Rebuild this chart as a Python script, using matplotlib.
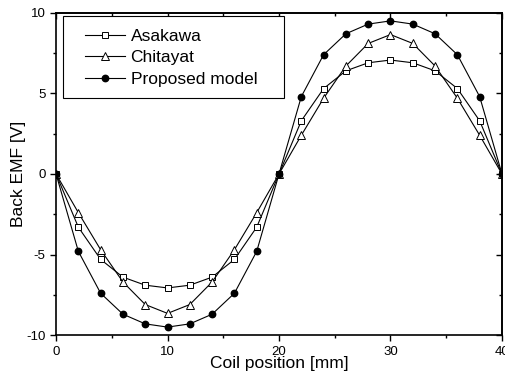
import matplotlib

matplotlib.use("Agg")
import matplotlib.pyplot as plt  # noqa: E402
from matplotlib.patches import Rectangle  # noqa: E402
from matplotlib.ticker import MultipleLocator  # noqa: E402

plt.rcParams["font.family"] = ["Liberation Sans", "DejaVu Sans"]
plt.rcParams["axes.unicode_minus"] = False

# Coil position [mm], sampled every 2 mm
POSITION = [0, 2, 4, 6, 8, 10, 12, 14, 16, 18, 20,
            22, 24, 26, 28, 30, 32, 34, 36, 38, 40]

# Back EMF [V]
ASAKAWA = [0, -3.3, -5.3, -6.4, -6.9, -7.07, -6.9, -6.4, -5.3, -3.3, 0,
           3.3, 5.3, 6.4, 6.9, 7.07, 6.9, 6.4, 5.3, 3.3, 0]
CHITAYAT = [0, -2.4, -4.7, -6.7, -8.1, -8.65, -8.1, -6.7, -4.7, -2.4, 0,
            2.4, 4.7, 6.7, 8.1, 8.65, 8.1, 6.7, 4.7, 2.4, 0]
PROPOSED = [0, -4.8, -7.4, -8.7, -9.3, -9.5, -9.3, -8.7, -7.4, -4.8, 0,
            4.8, 7.4, 8.7, 9.3, 9.5, 9.3, 8.7, 7.4, 4.8, 0]

fig = plt.figure(figsize=(5.05, 3.77), dpi=100)
ax = fig.add_axes([0.111, 0.111, 0.883, 0.855])

ax.plot(POSITION, ASAKAWA, color="black", lw=0.8, marker="s", ms=5,
        mfc="white", mec="black", mew=0.7, label="Asakawa")
ax.plot(POSITION, CHITAYAT, color="black", lw=0.8, marker="^", ms=5.5,
        mfc="white", mec="black", mew=0.7, label="Chitayat")
ax.plot(POSITION, PROPOSED, color="black", lw=0.8, marker="o", ms=4.6,
        mfc="black", mec="black", label="Proposed model")

ax.set_xlim(0, 40)
ax.set_ylim(-10, 10)
ax.xaxis.set_major_locator(MultipleLocator(10))
ax.xaxis.set_minor_locator(MultipleLocator(5))
ax.yaxis.set_major_locator(MultipleLocator(5))
ax.yaxis.set_minor_locator(MultipleLocator(2.5))
ax.tick_params(which="both", direction="out", labelsize=9.5, width=1)
ax.tick_params(which="major", length=4)
ax.tick_params(which="minor", length=2.5)

# mirrored ticks on top and right, pointing inward
top = ax.secondary_xaxis("top")
top.xaxis.set_major_locator(MultipleLocator(10))
top.xaxis.set_minor_locator(MultipleLocator(5))
top.tick_params(which="both", direction="in", labeltop=False, width=1)
top.tick_params(which="major", length=4)
top.tick_params(which="minor", length=2.5)
right = ax.secondary_yaxis("right")
right.yaxis.set_major_locator(MultipleLocator(5))
right.yaxis.set_minor_locator(MultipleLocator(2.5))
right.tick_params(which="both", direction="in", labelright=False, width=1)
right.tick_params(which="major", length=4)
right.tick_params(which="minor", length=2.5)

for sp in list(ax.spines.values()) + [top.spines["top"], right.spines["right"]]:
    sp.set_linewidth(1.2)

ax.set_xlabel("Coil position [mm]", fontsize=12.5, labelpad=-1)
ax.set_ylabel("Back EMF [V]", fontsize=12.5, labelpad=0)

# legend without its own frame; the box is drawn wider, like the original
ax.legend(loc="upper left", bbox_to_anchor=(0.066, 0.95), fontsize=12.5,
          frameon=False, handlelength=2.3, handletextpad=0.3,
          labelspacing=0.36, borderpad=0, borderaxespad=0)
ax.add_patch(Rectangle((0.016, 0.736), 0.495, 0.255, transform=ax.transAxes,
                       fill=True, facecolor="white", edgecolor="black",
                       lw=0.8, zorder=4.9))

fig.savefig("out.png", dpi=100)
